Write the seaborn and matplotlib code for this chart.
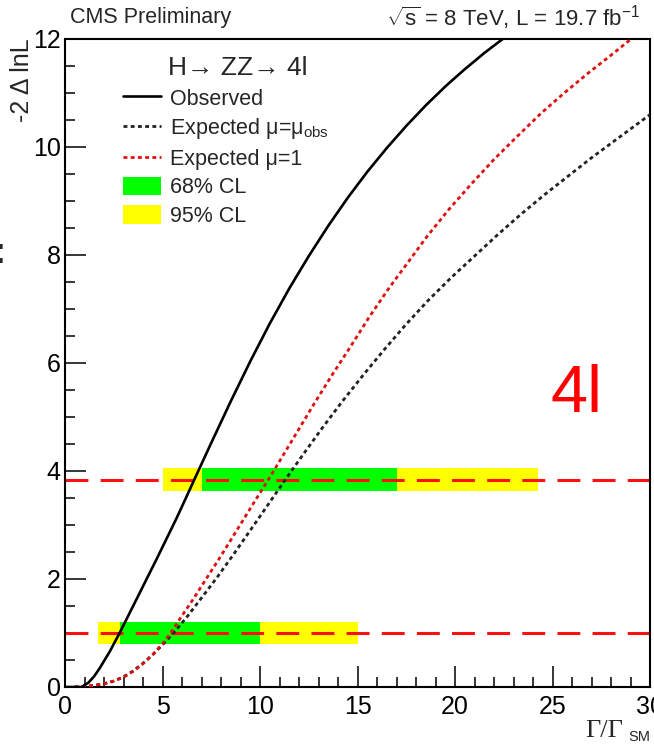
import matplotlib
matplotlib.use("Agg")
import matplotlib.pyplot as plt
import seaborn as sns
import pandas as pd
from matplotlib.ticker import MultipleLocator
from matplotlib.lines import Line2D
from matplotlib.patches import Patch

# -2 Delta lnL scans versus Gamma/Gamma_SM (H -> ZZ -> 4l)
obs_x = [0.0, 0.85, 1.2, 1.5, 1.8, 2.3, 2.8, 3.3, 3.8, 4.2, 4.7, 5.2, 5.7, 6.15, 6.63,
         7.5, 8.5, 9.5, 10.5, 11.5, 12.5, 13.5, 14.5, 15.5, 16.5, 17.5, 18.5, 19.5,
         20.5, 21.5, 22.3, 23.0]
obs_y = [0.0, 0.0, 0.08, 0.2, 0.36, 0.66, 1.0, 1.36, 1.72, 2.01, 2.37, 2.74, 3.11, 3.46, 3.84,
         4.52, 5.29, 6.03, 6.73, 7.38, 7.98, 8.54, 9.06, 9.54, 9.98, 10.39, 10.77, 11.12,
         11.44, 11.74, 11.96, 12.15]

exp_obs_x = [0.5, 1.0, 1.5, 2.0, 2.5, 3.0, 3.5, 4.0, 4.5, 5.0, 5.64, 6.3, 7.0, 7.8, 8.63,
             9.5, 10.4, 11.3, 12.2, 13.2, 14.2, 15.3, 16.4, 17.5, 18.6, 19.8, 21.0, 22.2,
             23.4, 24.6, 25.8, 27.0, 28.5, 30.0]
exp_obs_y = [0.0, 0.01, 0.03, 0.06, 0.11, 0.19, 0.3, 0.44, 0.6, 0.78, 1.03, 1.32, 1.65, 2.03,
             2.45, 2.9, 3.37, 3.84, 4.3, 4.8, 5.28, 5.78, 6.26, 6.72, 7.15, 7.58, 7.98, 8.38,
             8.76, 9.12, 9.46, 9.8, 10.2, 10.6]

exp_sm_x = [0.5, 1.0, 1.5, 2.0, 2.5, 3.0, 3.5, 4.0, 4.5, 5.0, 5.38, 6.0, 6.6, 7.2, 7.86,
            8.5, 9.2, 9.8, 10.43, 11.2, 12.0, 12.8, 13.7, 14.6, 15.6, 16.6, 17.6, 18.6,
            19.7, 20.8, 22.0, 23.2, 24.4, 25.6, 26.8, 28.0, 29.2, 30.0]
exp_sm_y = [0.0, 0.01, 0.03, 0.06, 0.11, 0.18, 0.29, 0.43, 0.6, 0.8, 0.98, 1.32, 1.64, 1.98,
            2.35, 2.72, 3.13, 3.48, 3.84, 4.3, 4.78, 5.26, 5.78, 6.28, 6.85, 7.38, 7.87,
            8.36, 8.85, 9.3, 9.77, 10.2, 10.62, 11.0, 11.36, 11.7, 12.05, 12.27]

cl_levels = [1.0, 3.84]
band68_lo = [2.8, 7.0]
band68_hi = [10.0, 17.0]
band95_lo = [1.7, 5.0]
band95_hi = [15.0, 24.25]

x_ticks = [0, 5, 10, 15, 20, 25, 30]
y_ticks = [0, 2, 4, 6, 8, 10, 12]

sns.set_theme(style="white")
plt.rcParams["font.family"] = ["Liberation Sans", "DejaVu Sans"]
plt.rcParams["mathtext.fontset"] = "custom"
plt.rcParams["mathtext.rm"] = "Liberation Sans"
plt.rcParams["mathtext.it"] = "Liberation Sans"
plt.rcParams["mathtext.sf"] = "Liberation Sans"

W, H = 654, 744
fig = plt.figure(figsize=(W / 100, H / 100), dpi=100)
ax = fig.add_axes([65 / W, 1 - 687 / H, (650 - 65) / W, (687 - 39) / H])

# CL bands: yellow 95%, green 68%
band_h = 0.42
ax.barh(cl_levels, [h - l for l, h in zip(band95_lo, band95_hi)], left=band95_lo,
        height=band_h, color="#ffff00", edgecolor="none", zorder=1)
ax.barh(cl_levels, [h - l for l, h in zip(band68_lo, band68_hi)], left=band68_lo,
        height=band_h, color="#00ff00", edgecolor="none", zorder=1)

for lvl in cl_levels:
    ax.axhline(lvl, color="#ff1010", lw=2.2, dashes=(7.5, 4.0), zorder=2)

df_obs = pd.DataFrame({"x": obs_x, "y": obs_y})
df_eo = pd.DataFrame({"x": exp_obs_x, "y": exp_obs_y})
df_es = pd.DataFrame({"x": exp_sm_x, "y": exp_sm_y})

sns.lineplot(data=df_obs, x="x", y="y", ax=ax, color="black", lw=1.9, sort=False, zorder=4)
sns.lineplot(data=df_eo, x="x", y="y", ax=ax, color="#222222", lw=2.0, sort=False,
             zorder=3).lines[-1].set_dashes((1.4, 1.2))
sns.lineplot(data=df_es, x="x", y="y", ax=ax, color="#e01010", lw=2.0, sort=False,
             zorder=3).lines[-1].set_dashes((1.4, 1.2))

ax.set_xlim(0, 30)
ax.set_ylim(0, 12)
ax.set_xticks(x_ticks)
ax.set_yticks(y_ticks)
ax.xaxis.set_minor_locator(MultipleLocator(1))
ax.yaxis.set_minor_locator(MultipleLocator(0.5))
ax.tick_params(which="both", direction="in", color="black", width=1.1,
               bottom=True, left=True, top=False, right=False)
ax.tick_params(which="major", length=15, labelsize=18, labelcolor="black")
ax.tick_params(which="minor", length=7.5)
ax.tick_params(axis="x", which="major", pad=6)
ax.tick_params(axis="y", which="major", pad=3)
ax.set_xlabel("")
ax.set_ylabel("")
for s in ax.spines.values():
    s.set_visible(True)
    s.set_color("black")
    s.set_linewidth(1.5)

# legend
handles = [
    Line2D([], [], color="black", lw=1.9),
    Line2D([], [], color="#222222", lw=2.0, dashes=(1.4, 1.2)),
    Line2D([], [], color="#e01010", lw=2.0, dashes=(1.4, 1.2)),
    Patch(facecolor="#00ff00", edgecolor="none"),
    Patch(facecolor="#ffff00", edgecolor="none"),
]
labels = ["Observed", "Expected μ=μ$_{\\mathrm{obs}}$", "Expected μ=1", "68% CL", "95% CL"]
fig.legend(handles, labels, loc="upper left", bbox_to_anchor=(123 / W, 1 - 88 / H),
           frameon=False, fontsize=15.5, handlelength=1.78, handleheight=0.93,
           handletextpad=0.42, labelspacing=0.32, borderpad=0, borderaxespad=0)
fig.text(168 / W, 1 - 68 / H, "H→ ZZ→ 4l", fontsize=19, va="center", ha="left")

fig.text(70 / W, 1 - 18 / H, "CMS Preliminary", fontsize=15.5, va="center", ha="left")
fig.text(640 / W, 1 - 18 / H, "$\\sqrt{\\mathrm{s}}$ = 8 TeV, L = 19.7 fb$^{\\mathrm{-1}}$",
         fontsize=16, va="center", ha="right")
fig.text(22 / W, 1 - 38 / H, "-2 Δ lnL", rotation=90, fontsize=18, va="top", ha="center")
fig.text(585 / W, 1 - 737 / H, "Γ/Γ", fontsize=19, va="baseline", ha="left",
         family=["Liberation Serif", "DejaVu Serif"])
fig.text(628 / W, 3 / H, "SM", fontsize=10.5, va="baseline", ha="left")
fig.text(577 / W, 1 - 395 / H, "4l", color="red", fontsize=48, va="center", ha="center")
fig.text(0.0, 1 - 254 / H, ":", fontsize=26, fontweight="bold", va="center", ha="center")

fig.savefig("out.png", dpi=100)
